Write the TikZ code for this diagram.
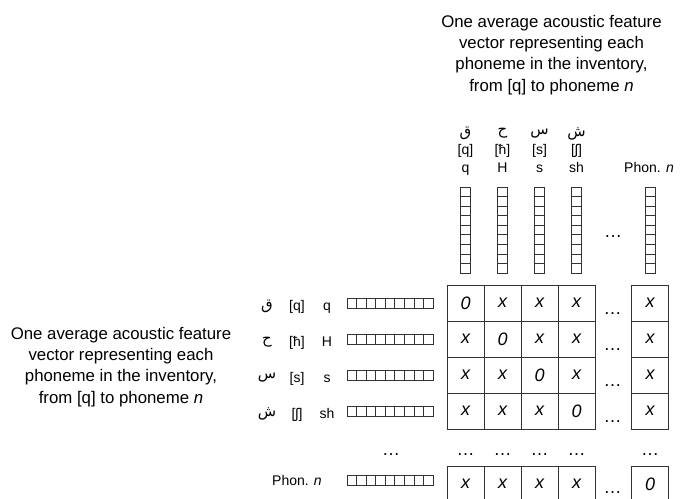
\documentclass[tikz,border=0pt]{standalone}
\usepackage{fontspec}
\setmainfont{Liberation Sans}
\newfontfamily\arabicfont[Script=Arabic]{DejaVu Sans}
\TeXXeTstate=1
\begin{document}
\begin{tikzpicture}[x=1pt,y=-1pt,
  cell/.style={draw=black!80, line width=0.8pt, minimum width=37pt, minimum height=36pt, inner sep=0pt, font=\fontsize{18}{20}\selectfont\itshape},
  rcell/.style={cell, minimum width=37pt},
  lab/.style={font=\fontsize{14}{16}\selectfont, inner sep=0pt, anchor=base},
  ar/.style={font=\fontsize{15}{17}\selectfont\arabicfont, inner sep=0pt},
  desc/.style={align=center, font=\fontsize{16.8}{21.3}\selectfont, inner sep=0pt},
  dts/.style={font=\fontsize{18}{20}\selectfont, inner sep=0pt, anchor=base},
  vec/.style={draw=black!80, line width=0.7pt}]
\useasboundingbox (0,0) rectangle (680,498);

% descriptions
\node[desc] (topdesc) at (551.5,55) {One average acoustic feature\\vector representing each\\phoneme in the inventory,\\from [q] to phoneme \textit{n}};
\node[desc] (leftdesc) at (121,367) {One average acoustic feature\\vector representing each\\phoneme in the inventory,\\from [q] to phoneme \textit{n}};

% column headers
\node[ar] (ha1) at (465.5,133.5) {\beginR ق\endR};
\node[ar] (ha2) at (502.5,133.5) {\beginR ح\endR};
\node[ar] (ha3) at (539.5,133.5) {\beginR س\endR};
\node[ar] (ha4) at (576.5,133.5) {\beginR ش\endR};
\node[lab] (hi1) at (465.5,154.5) {[q]};
\node[lab] (hi2) at (502.5,154.5) {[ħ]};
\node[lab] (hi3) at (539.5,154.5) {[s]};
\node[lab] (hi4) at (576.5,154.5) {[ʃ]};
\node[lab] (hl1) at (465.5,172) {q};
\node[lab] (hl2) at (502.5,172) {H};
\node[lab] (hl3) at (539.5,172) {s};
\node[lab] (hl4) at (576.5,172) {sh};
\node[lab] (hl5) at (649,172) {Phon. \textit{n}};

% vertical vectors
\foreach \cx in {465.5,502.5,539.5,576.5,650}{
  \draw[vec] ({\cx-5},187) rectangle ({\cx+5},273);
  \foreach \k in {1,...,8}{
    \draw[vec] ({\cx-5},{187+\k*9.556}) -- ({\cx+5},{187+\k*9.556});
  }
}
\node[dts] (vdots) at (613,237) {\ldots};

% row labels and horizontal vectors
\foreach \ry/\a/\i/\l [count=\r] in {303/ق/[q]/q,339/ح/[ħ]/H,375/س/[s]/s,411/ش/[ʃ]/sh}{
  \node[ar] (ra\r) at (267,{\ry+3}) {\beginR\a\endR};
  \node[lab] (ri\r) at (297,{\ry+7}) {\i};
  \node[lab] (rl\r) at (327,{\ry+7}) {\l};
  \draw[vec] (347,{\ry-4.5}) rectangle (433,{\ry+5});
  \foreach \k in {1,...,8}{
    \draw[vec] ({347+\k*9.556},{\ry-4.5}) -- ({347+\k*9.556},{\ry+5});
  }
}
\node[lab] (rln) at (297,485) {Phon. \textit{n}};
\draw[vec] (347,475.5) rectangle (433,485);
\foreach \k in {1,...,8}{
  \draw[vec] ({347+\k*9.556},475.5) -- ({347+\k*9.556},485);
}

% matrix
\foreach \ry [count=\r] in {303,339,375,411}{
  \foreach \cx [count=\c] in {465.5,502.5,539.5,576.5}{
    \ifnum\r=\c
      \node[cell] (m-\r-\c) at (\cx,\ry) {0};
    \else
      \node[cell] (m-\r-\c) at (\cx,\ry) {x};
    \fi
  }
  \node[rcell] (m-\r-n) at (650,\ry) {x};
  \node[dts] (md\r) at (612.5,{\ry+11}) {\ldots};
}
\foreach \cx [count=\c] in {465.5,502.5,539.5,576.5}{
  \node[cell] (m-n-\c) at (\cx,484) {x};
}
\node[rcell] (m-n-n) at (650,484) {0};
\node[dts] (mdn) at (612.5,493) {\ldots};

% dots row
\foreach \cx [count=\c] in {391,465.5,502.5,539.5,576.5,650}{
  \node[dts] (dr\c) at (\cx,455) {\ldots};
}
\end{tikzpicture}
\end{document}
